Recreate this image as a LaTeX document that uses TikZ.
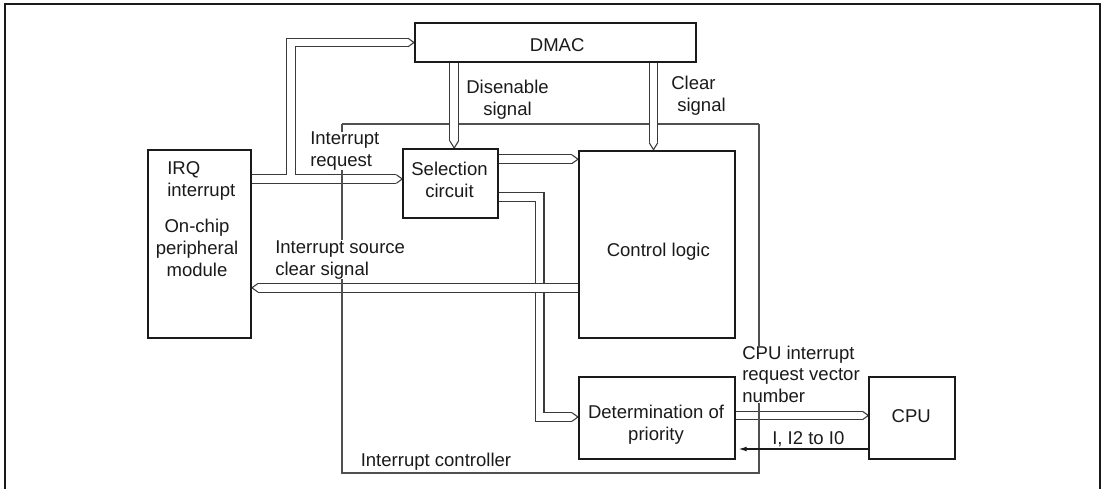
\documentclass[tikz,border=0pt]{standalone}
\usepackage{fontspec}
\setmainfont{Liberation Sans}
\usetikzlibrary{calc,arrows.meta}
\pgfdeclarelayer{bg}
\pgfsetlayers{bg,main}
\definecolor{ink}{HTML}{1A1A1A}
\definecolor{busc}{HTML}{3A3A3A}
\definecolor{thinc}{HTML}{505050}
\tikzset{
  box/.style={draw=ink, line width=1.5pt, fill=white, inner sep=0pt},
  lbl/.style={text=ink, inner sep=0pt, font=\fontsize{13.9pt}{16.5pt}\selectfont},
  wlbl/.style={lbl, fill=white},
  busout/.style={draw=busc, line width=7.3pt, line join=miter, line cap=butt},
  busin/.style={draw=white, line width=5.6pt, line join=miter, line cap=butt},
  tipst/.style={draw=busc, fill=white, line width=0.8pt, line join=miter},
  thinline/.style={draw=thinc, line width=0.8pt},
  sigarrow/.style={draw=ink, line width=0.8pt, -{Latex[length=6pt,width=3.6pt]}, shorten >=2pt},
  frameline/.style={draw=ink, line width=1.6pt},
  tipR/.pic={\filldraw[tipst] (-6,-4.3) -- (0,0) -- (-6,4.3);},
  tipL/.pic={\filldraw[tipst] (6,-4.3) -- (0,0) -- (6,4.3);},
  tipD/.pic={\filldraw[tipst] (-4.3,-7) -- (0,0) -- (4.3,-7);}
}
\begin{document}
\begin{tikzpicture}[x=0.75pt,y=-0.75pt]
\useasboundingbox (0,0) rectangle (1104,489);
% outer frame
\draw[frameline] (5,492) -- (5,4) -- (1099.7,4) -- (1099.7,492);

% blocks
\node[box, minimum width=77pt, minimum height=141.2pt] (irq) at (199.6,244.2) {};
\node[box, minimum width=210.75pt, minimum height=29.5pt] (dmac) at (555.5,42.5) {};
\node[box, minimum width=71.25pt, minimum height=52pt] (sel) at (450.8,183.7) {};
\node[box, minimum width=117pt, minimum height=140.7pt] (ctrl) at (657,244.5) {};
\node[box, minimum width=117pt, minimum height=61.7pt] (prio) at (657,417.8) {};
\node[box, minimum width=64.3pt, minimum height=61.7pt] (cpu) at (912.2,417.8) {};

% interrupt controller boundary corners
\coordinate (fc1) at (342,124);
\coordinate (fc2) at (759,124);
\coordinate (fc3) at (759,473);
\coordinate (fc4) at (342,473);

% bus end points
\coordinate (b1s) at (irq.east |- 0,179);
\coordinate (b1e) at (sel.west |- 0,179);
\coordinate (b1j) at (290.8,179);
\coordinate (b2s) at (dmac.south -| 454.2,0);
\coordinate (b2e) at (sel.north -| 454.2,0);
\coordinate (b3s) at (dmac.south -| 653.5,0);
\coordinate (b3e) at (ctrl.north -| 653.5,0);
\coordinate (b4s) at (sel.east |- 0,159.2);
\coordinate (b4e) at (ctrl.west |- 0,159.2);
\coordinate (b5s) at (sel.east |- 0,196.8);
\coordinate (b5c) at (539.7,417);
\coordinate (b5e) at (prio.west |- 0,417);
\coordinate (b6s) at (ctrl.west |- 0,287.8);
\coordinate (b6e) at (irq.east |- 0,287.8);
\coordinate (b7s) at (prio.east |- 0,415.5);
\coordinate (b7e) at (cpu.west |- 0,415.5);
\coordinate (a1s) at (cpu.west |- 0,449);
\coordinate (a1e) at (prio.east |- 0,449);

\begin{pgfonlayer}{bg}
  \draw[thinline] (fc1) -- (fc2);
  % IRQ -> selection circuit, with branch to DMAC
  \draw[busout] (b1s) -- ([xshift=-4.5pt]b1e) (b1j) |- ([xshift=-4.5pt]dmac.west);
  \draw[busin]  (b1s) -- ([xshift=-4.5pt]b1e) (b1j) |- ([xshift=-4.5pt]dmac.west);
  \pic at (b1e) {tipR};
  \pic at (dmac.west) {tipR};
  % DMAC -> selection circuit (disenable)
  \draw[busout] (b2s) -- ([yshift=5.25pt]b2e);
  \draw[busin]  (b2s) -- ([yshift=5.25pt]b2e);
  \pic at (b2e) {tipD};
  % DMAC -> control logic (clear)
  \draw[busout] (b3s) -- ([yshift=5.25pt]b3e);
  \draw[busin]  (b3s) -- ([yshift=5.25pt]b3e);
  \pic at (b3e) {tipD};
  % selection -> control logic
  \draw[busout] (b4s) -- ([xshift=-4.5pt]b4e);
  \draw[busin]  (b4s) -- ([xshift=-4.5pt]b4e);
  \pic at (b4e) {tipR};
  % selection -> determination of priority
  \draw[busout] (b5s) -| (b5c) -- ([xshift=-4.5pt]b5e);
  \draw[busin]  (b5s) -| (b5c) -- ([xshift=-4.5pt]b5e);
  \pic at (b5e) {tipR};
  % control logic -> peripheral (source clear)
  \draw[busout] (b6s) -- ([xshift=4.5pt]b6e);
  \draw[busin]  (b6s) -- ([xshift=4.5pt]b6e);
  \pic at (b6e) {tipL};
  % priority -> CPU
  \draw[busout] (b7s) -- ([xshift=-4.5pt]b7e);
  \draw[busin]  (b7s) -- ([xshift=-4.5pt]b7e);
  \pic at (b7e) {tipR};
\end{pgfonlayer}

% interrupt controller boundary (other sides, over the buses)
\draw[thinline] (fc2) -- (fc3) -- (fc4) -- (fc1);

% CPU -> priority mask signal
\draw[sigarrow] (a1s) -- (a1e);

% texts
\node[lbl, anchor=west, align=left] (irqt1) at (167,181) {IRQ\\interrupt};
\node[lbl, align=center] (irqt2) at (197,248.3) {On-chip\\peripheral\\module};
\node[lbl, anchor=base] (dmact) at (557.2,51.7) {DMAC};
\node[lbl, align=center] (selt) at (449.5,180.3) {Selection\\circuit};
\node[lbl, anchor=base] (ctrlt) at (658.3,256.7) {Control logic};
\node[lbl, align=center] (priot) at (656,425.2) {Determination of\\priority};
\node[lbl, anchor=base] (cput) at (911.3,422.7) {CPU};
\node[lbl, align=center] (dist) at (507.5,99.7) {Disenable\\signal};
\node[lbl, anchor=west, align=left] (clrt) at (671,95.7) {Clear\\\hspace*{4.5pt}signal};
\node[wlbl, anchor=west, align=left] (ireqt) at (310,151.2) {Interrupt\\request};
\node[wlbl, anchor=west, align=left] (isrct) at (275,259.7) {Interrupt source\\clear signal};
\node[wlbl, anchor=west, align=left, font=\fontsize{13.9pt}{16.1pt}\selectfont] (vect) at (742,374.3) {CPU interrupt\\request vector\\number};
\node[lbl, anchor=base west] (i2t) at (772,444) {I, I2 to I0};
\node[lbl, anchor=base west] (ict) at (360.5,466.7) {Interrupt controller};
\end{tikzpicture}
\end{document}
